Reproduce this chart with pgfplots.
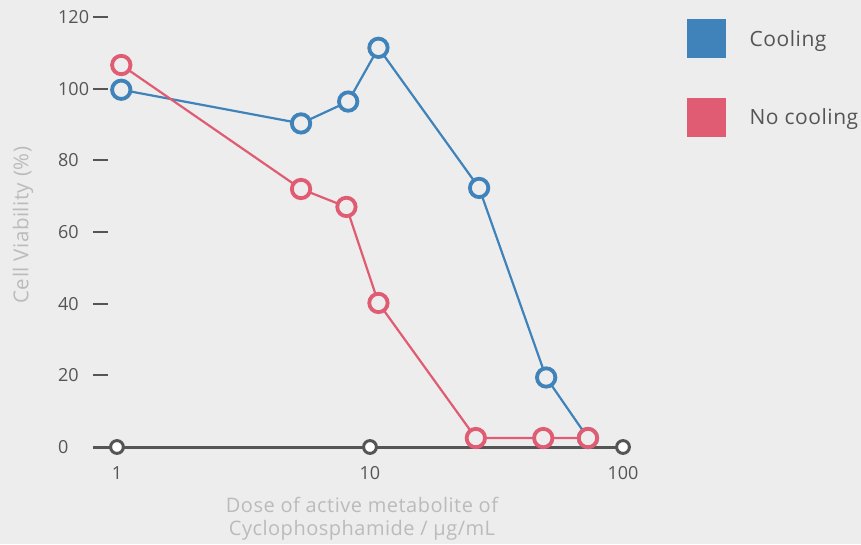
\documentclass[border=0pt]{standalone}
\usepackage{pgfplots}
\pgfplotsset{compat=1.18}
\usepackage{fontspec}
\setmainfont{Open Sans}
\newfontfamily\wide[LetterSpace=2.5]{Open Sans}
\definecolor{bg}{HTML}{EDEDED}
\definecolor{cblue}{HTML}{3F83BA}
\definecolor{cred}{HTML}{E05C73}
\definecolor{axgray}{HTML}{555555}
\definecolor{labgray}{HTML}{BBBBBB}
\begin{document}
\begin{tikzpicture}
\useasboundingbox (0pt,0pt) rectangle (861pt,544pt);
\fill[bg] (0pt,0pt) rectangle (861pt,544pt);
\begin{semilogxaxis}[
  at={(93pt,97pt)}, anchor=south west,
  scale only axis, width=530pt, height=430pt,
  xmin=0.804, xmax=100, ymin=0, ymax=120,
  clip=false,
  axis x line*=bottom, axis y line*=left,
  x axis line style={axgray, line width=3pt, -},
  y axis line style={draw=none},
  xtick={1,10,100}, xticklabels={1,10,100},
  xminorticks=false,
  xtick style={draw=none},
  ytick={0,20,40,60,80,100,120},
  ytick style={axgray, line width=2pt},
  tick align=inside,
  major tick length=15pt,
  /pgf/number format/assume math mode=true,
  ticklabel style={font=\fontsize{18}{20}\selectfont, text=axgray, inner sep=0pt},
  xticklabel style={yshift=-19pt},
  yticklabel style={anchor=west, xshift=-35pt},
  xlabel={Dose of active metabolite of\\Cyclophosphamide / µg/mL},
  xlabel style={at={(axis description cs:0.5075,-0.167)}, anchor=center, align=center, font=\wide\fontsize{20}{23}\selectfont, text=labgray},
  ylabel={Cell Viability (\%)},
  ylabel style={at={(axis description cs:-0.132,0.516)}, anchor=center, font=\wide\fontsize{20.5}{23}\selectfont, text=labgray},
  legend style={at={(axis description cs:1.1208,0.9953)}, anchor=north west, draw=none, fill=none,
    font=\wide\fontsize{21}{24}\selectfont, text=axgray, row sep=40pt, inner sep=0pt,
    nodes={inner sep=0pt}},
  legend cell align=left,
]
\addplot[only marks, mark=*, mark size=6.4pt, mark options={fill=white, draw=axgray, line width=3pt}, forget plot]
  coordinates {(1,0)(10,0)(100,0)};
\addplot[cblue, line width=2.2pt, mark=*, mark size=9.2pt, mark options={fill=bg, draw=cblue, line width=3.8pt}, forget plot]
  coordinates {(1.04,99.7)(5.34,90.3)(8.2,96.4)(10.8,111.4)(27,72.3)(49.7,19.4)(72.7,2.5)};
\addplot[cred, line width=2.2pt, mark=*, mark size=9.2pt, mark options={fill=bg, draw=cred, line width=3.8pt}, forget plot]
  coordinates {(1.04,106.6)(5.34,72)(8.07,67)(10.8,40.2)(26.2,2.5)(48.4,2.5)(72.7,2.5)};
\addlegendimage{legend image code/.code={\fill[cblue] (0pt,-18.3pt) rectangle (38pt,19.7pt); \path (62pt,0pt);}}
\addlegendentry{Cooling}
\addlegendimage{legend image code/.code={\fill[cred] (0pt,-18.3pt) rectangle (38pt,19.7pt); \path (62pt,0pt);}}
\addlegendentry{No cooling}
\end{semilogxaxis}
\end{tikzpicture}
\end{document}
